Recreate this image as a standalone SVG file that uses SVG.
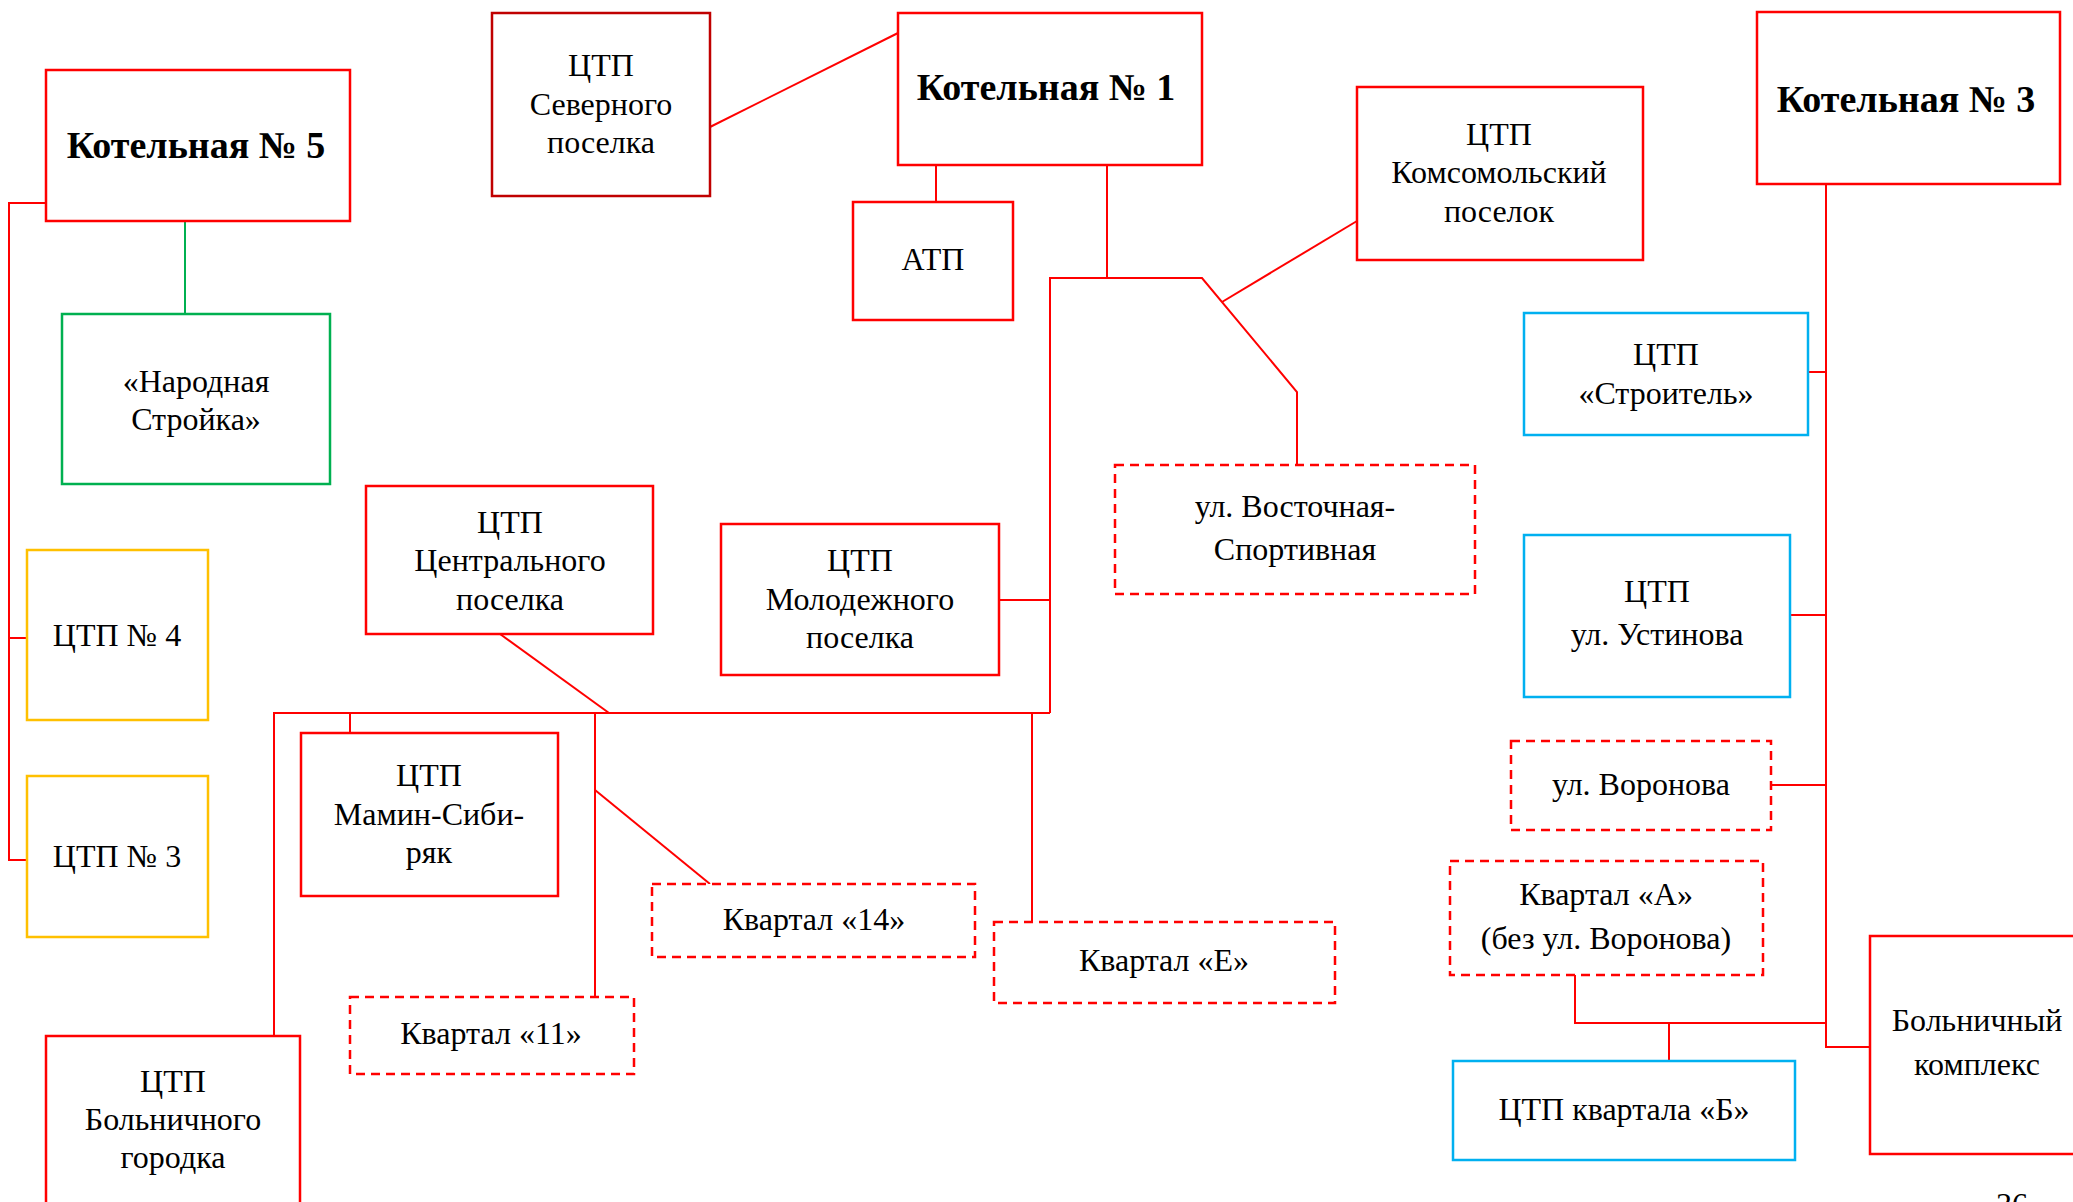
<svg xmlns="http://www.w3.org/2000/svg" width="2073" height="1202" viewBox="0 0 2073 1202">
<style>
.bx{fill:#fff;stroke:#FF0000;stroke-width:2.5}
.dk{fill:#fff;stroke:#C00000;stroke-width:2.5}
.gr{fill:#fff;stroke:#00B050;stroke-width:2.5}
.yl{fill:#fff;stroke:#FFC000;stroke-width:2.5}
.bl{fill:#fff;stroke:#00B0F0;stroke-width:2.5}
.ds{fill:#fff;stroke:#FF0000;stroke-width:2.5;stroke-dasharray:9 6}
text{font-family:"Liberation Serif","Times New Roman",serif;font-size:32px;fill:#000;text-anchor:middle}
.b{font-weight:bold;font-size:38px}
.ln{fill:none;stroke:#FF0000;stroke-width:2}
.lg{fill:none;stroke:#00B050;stroke-width:2}
</style>
<rect width="2073" height="1202" fill="#fff"/>
<g id="connectors">
<path class="lg" d="M185,221 V314"/>
<path class="ln" d="M46,203 H9 V860 H27 M9,638 H27"/>
<path class="ln" d="M710,127 L898,33"/>
<path class="ln" d="M936,165 V202"/>
<path class="ln" d="M1107,165 V278"/>
<path class="ln" d="M1050,713 V278 H1202 L1297,392 V465"/>
<path class="ln" d="M1222,302 L1357,221"/>
<path class="ln" d="M999,600 H1050"/>
<path class="ln" d="M274,1036 V713 H1050"/>
<path class="ln" d="M350,713 V733"/>
<path class="ln" d="M500,634 L609,713"/>
<path class="ln" d="M595,713 V997"/>
<path class="ln" d="M595,790 L710,884"/>
<path class="ln" d="M1032,713 V922"/>
<path class="ln" d="M1826,184 V1047 H1870"/>
<path class="ln" d="M1808,372 H1826"/>
<path class="ln" d="M1790,615 H1826"/>
<path class="ln" d="M1771,785 H1826"/>
<path class="ln" d="M1575,975 V1023 H1826"/>
<path class="ln" d="M1669,1023 V1061"/>
</g>
<g id="kot5"><rect class="bx" x="46" y="70" width="304" height="151"/><text class="b" x="196" y="158">Котельная № 5</text></g>
<g id="severny"><rect class="dk" x="492" y="13" width="218" height="183"/><text x="601" y="76">ЦТП</text><text x="601" y="115">Северного</text><text x="601" y="153">поселка</text></g>
<g id="kot1"><rect class="bx" x="898" y="13" width="304" height="152"/><text class="b" x="1046" y="100">Котельная № 1</text></g>
<g id="atp"><rect class="bx" x="853" y="202" width="160" height="118"/><text x="933" y="270">АТП</text></g>
<g id="komsomol"><rect class="bx" x="1357" y="87" width="286" height="173"/><text x="1499" y="145">ЦТП</text><text x="1499" y="183">Комсомольский</text><text x="1499" y="222">поселок</text></g>
<g id="kot3"><rect class="bx" x="1757" y="12" width="303" height="172"/><text class="b" x="1906" y="112">Котельная № 3</text></g>
<g id="stroitel"><rect class="bl" x="1524" y="313" width="284" height="122"/><text x="1666" y="365">ЦТП</text><text x="1666" y="404">«Строитель»</text></g>
<g id="ustinova"><rect class="bl" x="1524" y="535" width="266" height="162"/><text x="1657" y="602">ЦТП</text><text x="1657" y="645">ул. Устинова</text></g>
<g id="voronova"><rect class="ds" x="1511" y="741" width="260" height="89"/><text x="1641" y="795">ул. Воронова</text></g>
<g id="kvA"><rect class="ds" x="1450" y="861" width="313" height="114"/><text x="1606" y="905">Квартал «А»</text><text x="1606" y="949">(без ул. Воронова)</text></g>
<g id="kvB"><rect class="bl" x="1453" y="1061" width="342" height="99"/><text x="1624" y="1120">ЦТП квартала «Б»</text></g>
<g id="bolnKompl"><rect class="bx" x="1870" y="936" width="230" height="218"/><text x="1977" y="1031">Больничный</text><text x="1977" y="1075">комплекс</text></g>
<g id="vostochnaya"><rect class="ds" x="1115" y="465" width="360" height="129"/><text x="1295" y="517">ул. Восточная-</text><text x="1295" y="560">Спортивная</text></g>
<g id="molodezh"><rect class="bx" x="721" y="524" width="278" height="151"/><text x="860" y="571">ЦТП</text><text x="860" y="610">Молодежного</text><text x="860" y="648">поселка</text></g>
<g id="kvE"><rect class="ds" x="994" y="922" width="341" height="81"/><text x="1164" y="971">Квартал «Е»</text></g>
<g id="kv14"><rect class="ds" x="652" y="884" width="323" height="73"/><text x="814" y="930">Квартал «14»</text></g>
<g id="central"><rect class="bx" x="366" y="486" width="287" height="148"/><text x="510" y="533">ЦТП</text><text x="510" y="571">Центрального</text><text x="510" y="610">поселка</text></g>
<g id="mamin"><rect class="bx" x="301" y="733" width="257" height="163"/><text x="429" y="786">ЦТП</text><text x="429" y="825">Мамин-Сиби-</text><text x="429" y="863">ряк</text></g>
<g id="kv11"><rect class="ds" x="350" y="997" width="284" height="77"/><text x="491" y="1044">Квартал «11»</text></g>
<g id="bolnGorodok"><rect class="bx" x="46" y="1036" width="254" height="200"/><text x="173" y="1092">ЦТП</text><text x="173" y="1130">Больничного</text><text x="173" y="1168">городка</text></g>
<g id="ctp4"><rect class="yl" x="27" y="550" width="181" height="170"/><text x="117" y="646">ЦТП № 4</text></g>
<g id="ctp3"><rect class="yl" x="27" y="776" width="181" height="161"/><text x="117" y="867">ЦТП № 3</text></g>
<g id="narodnaya"><rect class="gr" x="62" y="314" width="268" height="170"/><text x="196" y="392">«Народная</text><text x="196" y="430">Стройка»</text></g>
<text x="2012" y="1215">36</text>
</svg>
